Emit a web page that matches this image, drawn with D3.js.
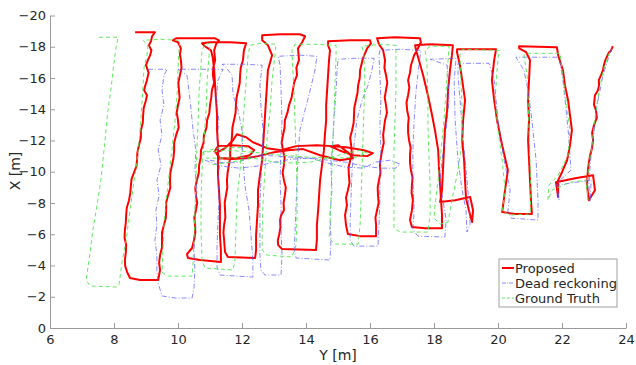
<!DOCTYPE html>
<html><head><meta charset="utf-8">
<script src="https://cdn.jsdelivr.net/npm/d3@7/dist/d3.min.js"></script>
<style>body{margin:0;background:#fff}svg{display:block}text{font-family:"DejaVu Sans",sans-serif}</style>
</head><body><svg id="c" width="636" height="365"></svg>
<script>
// Axis ticks
const xTicks = [6,8,10,12,14,16,18,20,22,24];
const yTicks = [-20,-18,-16,-14,-12,-10,-8,-6,-4,-2,0];
const seriesNames = ["Proposed","Dead reckoning","Ground Truth"];

// Proposed trajectory, [Y (m), X (m)]
const proposedMain = [
[8.66,-18.93],[9.28,-18.93],
[9.19,-18.67],[9.16,-18.38],[9.09,-18.09],[9.17,-17.78],[9.13,-17.46],[9.06,-17.14],[9.00,-16.82],[9.08,-16.34],[9.03,-15.86],[8.98,-15.54],[8.94,-15.22],[9.03,-14.90],[9.00,-14.58],[8.93,-14.10],[8.91,-13.62],[8.90,-13.14],[8.84,-12.66],[8.84,-12.18],[8.78,-11.70],[8.73,-11.22],[8.72,-10.74],[8.70,-10.35],[8.63,-9.97],[8.55,-9.55],[8.53,-9.14],[8.51,-8.66],[8.47,-8.18],[8.40,-7.70],[8.38,-7.23],[8.37,-6.75],[8.34,-6.27],[8.33,-5.79],[8.38,-5.31],[8.37,-4.83],[8.34,-4.35],[8.35,-3.96],[8.41,-3.58],
[8.50,-3.20],[8.81,-3.07],[9.38,-3.07],
[9.44,-3.71],[9.41,-4.19],[9.44,-4.67],[9.50,-5.15],[9.50,-5.63],[9.50,-6.11],[9.56,-6.59],[9.62,-7.06],[9.63,-7.54],[9.63,-8.02],[9.69,-8.50],[9.76,-8.98],[9.75,-9.46],[9.76,-9.94],[9.81,-10.42],[9.86,-10.90],[9.88,-11.38],[9.88,-11.86],[9.94,-12.34],[10.02,-12.82],[10.00,-13.30],[9.96,-13.78],[10.00,-14.26],[10.05,-14.74],[10.03,-15.22],[10.01,-15.70],[10.06,-16.18],[10.11,-16.66],[10.09,-17.14],[10.06,-17.52],[10.09,-17.90],
[10.00,-18.29],[9.84,-18.41],[9.94,-18.54],[10.69,-18.54],[11.16,-18.54],[11.28,-18.41],[11.19,-18.16],
[11.13,-17.77],[11.16,-17.14],[11.10,-16.66],[11.09,-16.18],[11.13,-15.70],[11.06,-15.22],[11.04,-14.74],[11.00,-14.26],[10.98,-13.78],[10.91,-13.30],[10.89,-12.82],[10.81,-12.34],[10.80,-11.86],[10.72,-11.38],[10.71,-10.90],[10.66,-10.42],[10.65,-9.94],[10.59,-9.46],[10.54,-8.98],[10.56,-8.50],[10.60,-8.02],[10.56,-7.54],[10.51,-7.06],[10.53,-6.59],[10.54,-6.11],[10.50,-5.63],
[10.44,-5.12],[10.28,-4.73],[10.31,-4.48],[10.69,-4.35],[11.34,-4.22],
[11.34,-4.99],[11.31,-5.95],[11.31,-6.91],[11.31,-7.86],[11.28,-8.82],[11.25,-9.78],[11.25,-10.74],[11.25,-11.70],[11.22,-12.66],[11.22,-13.62],[11.19,-14.58],[11.16,-15.54],[11.13,-16.50],[11.09,-17.26],[11.03,-17.77],[10.84,-18.03],[10.75,-18.22],[11.00,-18.29],[11.63,-18.29],[12.13,-18.22],[12.06,-17.77],
[12.03,-17.14],[11.96,-16.66],[11.94,-16.18],[11.93,-15.70],[11.88,-15.22],[11.83,-14.74],[11.81,-14.26],[11.80,-13.78],[11.75,-13.30],[11.70,-12.82],[11.69,-12.34],[11.67,-11.86],[11.63,-11.38],[11.63,-10.90],[11.59,-10.42],[11.55,-9.94],[11.53,-9.46],[11.54,-8.98],[11.50,-8.50],[11.46,-8.02],[11.47,-7.54],[11.48,-7.06],[11.44,-6.59],[11.42,-6.11],[11.44,-5.63],
[11.47,-4.86],[11.56,-4.54],[12.41,-4.48],
[12.44,-4.99],[12.44,-5.95],[12.47,-6.91],[12.50,-7.86],[12.50,-8.82],[12.56,-9.78],[12.63,-10.74],[12.66,-11.70],[12.69,-12.66],[12.72,-13.62],[12.75,-14.58],[12.78,-15.54],[12.81,-16.50],[12.94,-17.46],[12.81,-18.09],[12.63,-18.41],[12.63,-18.73],[13.19,-18.80],[13.81,-18.80],[13.97,-18.67],[13.88,-18.29],[13.75,-17.90],
[13.78,-17.14],[13.70,-16.66],[13.72,-16.18],[13.63,-15.70],[13.59,-15.22],[13.55,-14.74],[13.47,-14.26],[13.42,-13.78],[13.34,-13.30],[13.33,-12.82],[13.28,-12.34],[13.24,-11.86],[13.28,-11.38],[13.33,-10.90],[13.31,-10.42],[13.27,-9.94],[13.31,-9.46],[13.37,-8.98],[13.34,-8.50],[13.30,-8.02],[13.31,-7.54],[13.22,-7.20],[13.19,-6.91],[13.20,-6.43],[13.16,-5.95],[13.12,-5.63],[13.13,-5.31],
[13.25,-5.05],[14.31,-4.99],
[14.34,-5.63],[14.34,-6.59],[14.38,-7.54],[14.41,-8.50],[14.44,-9.46],[14.50,-10.42],[14.56,-11.38],[14.59,-12.34],[14.63,-13.30],[14.63,-14.26],[14.66,-15.22],[14.69,-16.18],[14.72,-17.14],[14.75,-17.77],[14.69,-18.09],[14.69,-18.35],[15.38,-18.41],[16.00,-18.41],[16.03,-18.22],[15.91,-17.90],
[15.78,-17.26],[15.69,-16.50],[15.68,-16.02],[15.63,-15.54],[15.61,-15.06],[15.56,-14.58],[15.51,-14.10],[15.50,-13.62],[15.49,-13.14],[15.44,-12.66],[15.38,-12.18],[15.41,-11.70],[15.43,-11.22],[15.38,-10.74],[15.33,-10.26],[15.34,-9.78],[15.36,-9.30],[15.31,-8.82],[15.25,-8.34],[15.28,-7.86],[15.22,-7.23],
[15.25,-6.59],[15.31,-6.01],[15.69,-5.88],[16.19,-5.88],
[16.19,-6.59],[16.17,-7.06],[16.22,-7.54],[16.27,-8.02],[16.25,-8.50],[16.24,-8.98],[16.28,-9.46],[16.33,-9.94],[16.31,-10.42],[16.34,-10.90],[16.38,-11.38],[16.43,-11.86],[16.41,-12.34],[16.44,-12.82],[16.47,-13.30],[16.53,-13.78],[16.50,-14.26],[16.46,-14.74],[16.50,-15.22],[16.54,-15.70],[16.50,-16.18],[16.45,-16.66],[16.47,-17.14],
[16.41,-17.77],[16.28,-18.16],[16.22,-18.54],[16.78,-18.61],[17.56,-18.54],[17.59,-18.29],[17.50,-17.90],
[17.38,-17.46],[17.28,-16.82],[17.25,-16.34],[17.19,-15.86],[17.23,-15.38],[17.19,-14.90],[17.14,-14.42],[17.16,-13.94],[17.21,-13.46],[17.19,-12.98],[17.19,-12.50],[17.22,-12.02],[17.27,-11.54],[17.25,-11.06],[17.25,-10.58],[17.28,-10.10],[17.33,-9.62],[17.31,-9.14],[17.30,-8.66],[17.34,-8.18],
[17.31,-7.54],[17.25,-6.91],[17.31,-6.46],[17.72,-6.39],[18.25,-6.39],
[18.25,-7.23],[18.22,-8.18],[18.19,-9.14],[18.16,-10.10],[18.13,-11.38],[18.03,-12.66],[17.94,-13.62],[17.81,-14.90],[17.66,-16.18],[17.53,-17.14],[17.44,-17.77],[17.41,-18.09],[17.88,-18.16],[18.59,-18.09],
[18.56,-17.46],[18.50,-16.50],[18.44,-15.22],[18.41,-13.94],[18.34,-12.66],[18.31,-11.38],[18.28,-10.10],[18.25,-8.82],[18.19,-8.06],[18.66,-8.18],[19.13,-8.38],[19.22,-7.54],[19.19,-6.78],[19.09,-7.54],[19.00,-8.31],
[18.97,-9.46],[18.94,-10.74],[18.88,-12.02],[18.91,-13.30],[18.97,-14.58],[18.88,-15.86],[18.81,-16.82],[18.72,-17.65],[18.72,-17.84],[19.94,-17.84],
[19.88,-17.14],[19.81,-15.86],[19.88,-14.58],[19.97,-13.30],[20.13,-11.70],[20.31,-10.10],[20.22,-8.82],[20.16,-7.86],[20.13,-7.42],[20.53,-7.29],[21.06,-7.29],
[21.03,-8.18],[21.00,-9.46],[20.97,-10.74],[20.94,-12.02],[20.97,-13.30],[20.94,-14.58],[20.97,-15.86],[21.00,-17.14],[20.88,-17.65],[20.66,-17.90],[20.66,-18.03],[21.84,-17.97],
[21.88,-17.46],[22.03,-16.50],[22.09,-15.54],[22.19,-14.58],[22.25,-13.62],[22.31,-12.66],[22.25,-11.70],[22.16,-10.74],[22.00,-9.97],[21.88,-9.46],[21.88,-8.38],[21.81,-9.33],[22.41,-9.59],[22.97,-9.78],[23.03,-8.82],[22.84,-8.18],[22.78,-9.14],
[22.81,-10.10],[22.84,-10.58],[22.88,-11.06],[22.94,-11.54],[22.97,-12.02],[22.94,-12.50],[23.00,-12.98],[23.09,-13.46],[23.06,-13.94],[23.00,-14.30],[23.03,-14.90],[23.12,-15.20],[23.16,-15.54],[23.15,-15.86],[23.22,-16.18],[23.28,-16.50],[23.31,-16.82],[23.34,-17.05],[23.38,-17.26],[23.47,-17.65],[23.52,-17.72],[23.56,-17.90],[23.59,-18.03]
];
const proposedLoop = [
[11.13,-11.25],[11.25,-11.64],[11.69,-11.70],[12.19,-11.64],[12.38,-11.38],[12.25,-11.06],[11.81,-10.87],[11.31,-10.87],[11.19,-11.19],[11.47,-11.51],[11.72,-12.02],[11.84,-12.40],[12.13,-12.21],[12.34,-11.89],[12.78,-11.51],[13.22,-11.38],[13.69,-11.64],[14.34,-11.70],[14.78,-11.64],[15.25,-11.57],[15.81,-11.38],[16.09,-11.19],[15.91,-11.00],[15.47,-11.06],[15.03,-11.38],[14.75,-11.64],[15.00,-11.70],[15.31,-11.25],[15.47,-10.87],[15.06,-10.74],[14.44,-11.06],[13.91,-11.45],[13.44,-11.38],[13.00,-11.25],[12.50,-11.00],[12.13,-10.87],[11.69,-10.81],[11.25,-10.87]
];

// Dead reckoning trajectory
const deadMain = [
[9.06,-16.56],[9.66,-16.56],[9.56,-16.18],[9.50,-15.22],[9.56,-14.26],[9.44,-13.30],[9.50,-12.34],[9.38,-11.38],[9.47,-10.42],[9.34,-9.46],[9.41,-8.50],[9.31,-7.54],[9.34,-6.59],[9.28,-5.63],[9.34,-4.67],[9.34,-3.71],[9.38,-2.88],[9.50,-2.05],[9.91,-1.92],[10.44,-1.92],
[10.50,-2.56],[10.53,-3.71],[10.50,-4.99],[10.56,-6.27],[10.53,-7.54],[10.59,-8.82],[10.53,-10.10],[10.56,-11.38],[10.47,-12.66],[10.41,-13.94],[10.34,-15.22],[10.28,-16.18],[10.06,-16.50],[9.97,-16.56],[10.69,-16.56],[11.41,-16.56],
[11.25,-15.86],[11.19,-14.58],[11.28,-13.30],[11.22,-12.02],[11.31,-10.74],[11.25,-9.46],[11.28,-8.18],[11.25,-6.91],[11.22,-5.31],[11.22,-3.90],[11.31,-3.39],[12.34,-3.26],
[12.34,-4.35],[12.28,-5.95],[12.22,-7.54],[12.09,-9.14],[12.03,-10.74],[12.00,-12.66],[11.88,-13.94],[11.72,-14.90],[11.69,-16.18],[11.47,-16.75],[11.38,-16.88],[12.09,-16.88],[12.63,-16.82],
[12.56,-15.54],[12.59,-14.26],[12.66,-12.66],[12.63,-11.06],[12.59,-9.46],[12.56,-7.86],[12.56,-6.27],[12.56,-4.67],[12.59,-3.71],[12.72,-3.39],[13.22,-3.39],
[13.25,-4.67],[13.22,-6.27],[13.22,-7.86],[13.19,-9.46],[13.22,-11.38],[13.25,-13.30],[13.22,-15.22],[13.19,-16.82],[13.13,-17.39],[13.81,-17.46],[14.34,-17.39],
[14.28,-16.50],[14.13,-15.22],[13.97,-13.94],[13.81,-12.66],[13.75,-11.06],[13.72,-9.46],[13.69,-7.86],[13.66,-6.27],[13.63,-4.99],[13.69,-4.48],[14.75,-4.35],
[14.78,-5.63],[14.75,-7.23],[14.81,-8.82],[14.78,-10.42],[14.84,-12.02],[14.88,-13.62],[14.94,-15.22],[14.97,-16.50],[15.00,-17.20],[15.53,-17.26],[16.13,-17.26],
[16.06,-16.50],[15.94,-15.54],[15.75,-14.58],[15.59,-13.30],[15.50,-11.70],[15.44,-10.10],[15.41,-8.50],[15.38,-6.91],[15.38,-5.63],[15.50,-5.24],[16.25,-5.24],
[16.28,-6.59],[16.31,-8.18],[16.31,-9.78],[16.34,-11.38],[16.31,-12.98],[16.34,-14.58],[16.31,-16.18],[16.28,-17.46],[16.31,-17.77],[16.94,-17.84],[17.59,-17.77],
[17.53,-16.82],[17.44,-15.22],[17.38,-13.30],[17.34,-11.38],[17.34,-9.46],[17.38,-7.54],[17.34,-6.27],[17.50,-5.88],[18.34,-5.82],
[18.38,-6.91],[18.28,-8.18],[18.19,-9.46],[18.25,-10.74],[18.34,-12.02],[18.41,-13.30],[18.47,-14.58],[18.44,-15.86],[18.41,-16.82],[17.88,-17.20],[18.69,-17.26],
[18.63,-15.86],[18.66,-13.30],[18.75,-10.74],[18.88,-8.82],[19.00,-7.54],[19.03,-6.14],[19.13,-6.65],[19.06,-8.82],[18.94,-11.38],[18.84,-13.94],[18.75,-16.18],[18.75,-16.94],[19.72,-16.94],
[19.88,-15.86],[20.00,-13.30],[20.19,-10.74],[20.38,-8.82],[20.31,-7.48],[20.41,-7.03],[21.25,-6.91],
[21.25,-8.18],[21.19,-10.74],[21.06,-13.30],[20.94,-15.22],[20.81,-16.50],[20.56,-17.33],[21.91,-17.33],
[22.03,-15.86],[22.13,-13.94],[22.22,-12.02],[22.28,-10.10],[21.84,-9.27],[21.91,-8.18],[21.84,-9.14],[22.44,-9.33],[22.91,-9.46],[22.88,-8.06],[22.84,-9.14],
[22.88,-10.42],[22.94,-11.70],[23.03,-12.98],[23.09,-14.26],[23.19,-15.22],[23.28,-16.18],[23.41,-17.01],[23.53,-17.77],[23.59,-18.03]
];
const deadLoop = [
[10.84,-10.74],[11.38,-10.36],[11.91,-10.23],[12.47,-10.36],[13.00,-10.61],[13.56,-10.81],[14.13,-10.87],[14.69,-10.74],[15.25,-10.61],[15.81,-10.36],[16.34,-10.23],[16.81,-10.23],[16.94,-10.49],[16.63,-10.74],[16.16,-10.61],[15.81,-10.23],[15.25,-10.29],[14.69,-10.55],[14.13,-10.87],[13.56,-10.93],[13.06,-11.00],[12.56,-11.06],[12.09,-10.81],[11.91,-10.61],[11.47,-10.55],[11.00,-10.74]
];

// Ground truth trajectory
const truthMain = [
[7.53,-18.61],[8.13,-18.61],[8.06,-17.90],[7.97,-16.50],[7.91,-15.35],[7.81,-13.94],[7.72,-12.02],[7.59,-9.46],[7.47,-7.86],[7.34,-6.27],[7.22,-4.35],[7.13,-3.07],[7.25,-2.69],[8.09,-2.62],[8.16,-2.81],
[8.25,-4.22],[8.38,-5.63],[8.50,-7.54],[8.63,-9.46],[8.72,-10.74],[8.81,-12.47],[8.88,-14.58],[8.94,-16.69],[9.03,-17.46],[9.06,-18.09],[8.91,-18.41],[9.44,-18.48],[10.06,-18.41],
[10.03,-17.77],[10.00,-16.50],[9.97,-14.90],[9.91,-13.30],[9.81,-11.38],[9.72,-9.78],[9.63,-8.18],[9.56,-6.59],[9.53,-4.99],[9.50,-3.58],[9.66,-3.32],[10.44,-3.32],
[10.47,-4.16],[10.50,-5.63],[10.53,-7.54],[10.56,-9.46],[10.59,-11.38],[10.63,-13.30],[10.66,-15.22],[10.72,-16.82],[10.75,-17.77],[10.84,-18.16],[11.00,-18.22],
[10.97,-17.46],[10.91,-15.86],[10.88,-13.94],[10.81,-12.02],[10.75,-10.10],[10.72,-8.18],[10.72,-6.27],[10.75,-4.35],[10.84,-3.84],[11.72,-3.71],
[11.78,-4.35],[11.81,-6.27],[11.84,-8.18],[11.94,-10.10],[12.00,-12.02],[12.06,-13.94],[12.13,-15.86],[12.19,-17.46],[12.25,-18.09],[12.56,-18.22],[13.06,-18.16],
[13.03,-17.46],[12.94,-15.86],[12.88,-13.94],[12.78,-12.02],[12.72,-10.10],[12.66,-8.18],[12.63,-6.27],[12.63,-4.99],[12.78,-4.67],[13.56,-4.54],
[13.69,-5.31],[13.72,-7.23],[13.72,-9.14],[13.69,-11.06],[13.66,-12.98],[13.63,-14.90],[13.59,-16.50],[13.56,-17.77],[13.66,-18.16],[14.28,-18.16],[14.94,-18.09],
[14.94,-17.46],[14.91,-15.86],[14.88,-13.94],[14.84,-12.02],[14.81,-10.10],[14.78,-8.18],[14.75,-6.59],[14.72,-5.75],[14.91,-5.37],[15.63,-5.37],
[15.69,-6.59],[15.72,-8.18],[15.75,-10.10],[15.78,-12.02],[15.81,-13.94],[15.84,-15.86],[15.81,-17.46],[15.75,-18.03],[16.31,-18.16],[16.81,-18.09],
[16.81,-17.14],[16.81,-15.22],[16.78,-13.30],[16.75,-11.38],[16.75,-9.46],[16.75,-7.54],[16.75,-6.39],[16.94,-6.14],[17.81,-6.14],
[17.88,-7.23],[17.88,-9.14],[17.84,-11.06],[17.81,-12.98],[17.81,-14.90],[17.78,-16.82],[17.72,-17.77],[17.88,-18.03],[18.47,-18.03],
[18.44,-17.14],[18.38,-15.22],[18.31,-13.30],[18.22,-11.38],[18.13,-9.46],[18.03,-7.86],[18.00,-7.03],[18.19,-6.65],[18.44,-6.78],
[18.56,-8.18],[18.75,-10.10],[18.88,-12.02],[18.88,-13.94],[18.84,-15.86],[18.81,-17.46],[18.88,-17.84],[20.03,-17.77],
[19.97,-16.50],[19.91,-14.58],[20.00,-12.66],[20.13,-10.74],[20.22,-8.82],[20.13,-7.48],[20.38,-7.23],[21.00,-7.29],
[21.03,-8.82],[21.00,-10.74],[20.97,-12.66],[20.94,-14.58],[20.91,-16.18],[20.81,-17.46],[20.94,-17.58],[21.94,-17.58],
[22.00,-16.50],[22.13,-14.58],[22.25,-12.66],[22.19,-11.06],[21.88,-9.78],[21.59,-9.14],[21.56,-8.18],[21.69,-8.82],[22.25,-9.33],[22.75,-9.46],[22.81,-8.18],[22.78,-9.14],
[22.84,-10.42],[22.94,-11.70],[23.00,-12.98],[23.09,-14.26],[23.19,-15.54],[23.31,-16.62],[23.44,-17.39],[23.53,-17.84]
];
const truthLoop = [
[10.78,-11.25],[11.22,-11.51],[12.13,-11.57],[12.34,-11.25],[12.22,-10.93],[11.44,-10.87],[10.88,-10.87],[10.78,-11.25],[11.56,-11.38],[12.34,-11.25],[13.22,-11.06],[14.13,-10.93],[15.03,-10.87],[15.56,-10.93],[15.91,-11.19],[15.69,-11.38],[15.03,-11.06],[14.13,-10.61],[13.22,-10.55],[12.34,-10.87],[11.63,-10.61],[11.00,-10.42]
];

const svg = d3.select("#c");
const x = d3.scaleLinear().domain([6,24]).range([50,626]);
const y = d3.scaleLinear().domain([-20,0]).range([15.5,328]);

const line = d3.line().x(d => x(d[0])).y(d => y(d[1]));

const series = [
  {name: seriesNames[0], segs: [proposedMain, proposedLoop], color: "#ff0000", width: 2, dash: null, opacity: 1, legDash: null},
  {name: seriesNames[1], segs: [deadMain, deadLoop], color: "#5555ff", width: 1, dash: "5,2,1,2", opacity: 0.7, legDash: "4,1,1,1"},
  {name: seriesNames[2], segs: [truthMain, truthLoop], color: "#4ee84e", width: 1, dash: "4,3", opacity: 0.9, legDash: "3,2"}
];

const g = svg.append("g");
series.forEach(s => {
  s.segs.forEach(seg => {
    g.append("path").attr("d", line(seg)).attr("fill","none")
      .attr("stroke", s.color).attr("stroke-width", s.width)
      .attr("stroke-opacity", s.opacity)
      .attr("stroke-linejoin","round")
      .attr("stroke-dasharray", s.dash);
  });
});

// axes
const axisColor = "#9a9a9a";
const xAxis = svg.append("g").attr("transform","translate(0,328)")
  .call(d3.axisBottom(x).tickValues(xTicks).tickSizeInner(-5).tickSizeOuter(0).tickPadding(7).tickFormat(d3.format("d")));
const yAxis = svg.append("g").attr("transform","translate(50,0)")
  .call(d3.axisLeft(y).tickValues(yTicks).tickSizeInner(-5).tickSizeOuter(0).tickPadding(4).tickFormat(d3.format("d")));
[xAxis, yAxis].forEach(a => {
  a.select(".domain").attr("stroke", axisColor);
  a.selectAll(".tick line").attr("stroke", axisColor);
  a.selectAll(".tick text").attr("fill","#262626").style("font-size","13px").style("font-family","DejaVu Sans");
});

svg.append("text").attr("x", 338).attr("y", 360).attr("text-anchor","middle")
  .attr("fill","#262626").style("font-size","14px").text("Y [m]");
svg.append("text").attr("transform","translate(20,171) rotate(-90)").attr("text-anchor","middle")
  .attr("fill","#262626").style("font-size","14px").text("X [m]");

// legend
const lg = svg.append("g").attr("transform","translate(499,259)");
lg.append("rect").attr("x",0).attr("y",0).attr("width",118).attr("height",48)
  .attr("fill","#fff").attr("stroke","#a0a0a0").attr("stroke-width",1);
series.forEach((s,i) => {
  const yy = 9 + i*15;
  lg.append("line").attr("x1",3).attr("x2",15).attr("y1",yy).attr("y2",yy)
    .attr("stroke",s.color).attr("stroke-width",s.width).attr("stroke-opacity",s.opacity)
    .attr("stroke-dasharray", s.legDash);
  lg.append("text").attr("x",16).attr("y",yy).attr("dy","0.35em")
    .attr("fill","#262626").style("font-size","13px").text(s.name);
});
</script></body></html>
